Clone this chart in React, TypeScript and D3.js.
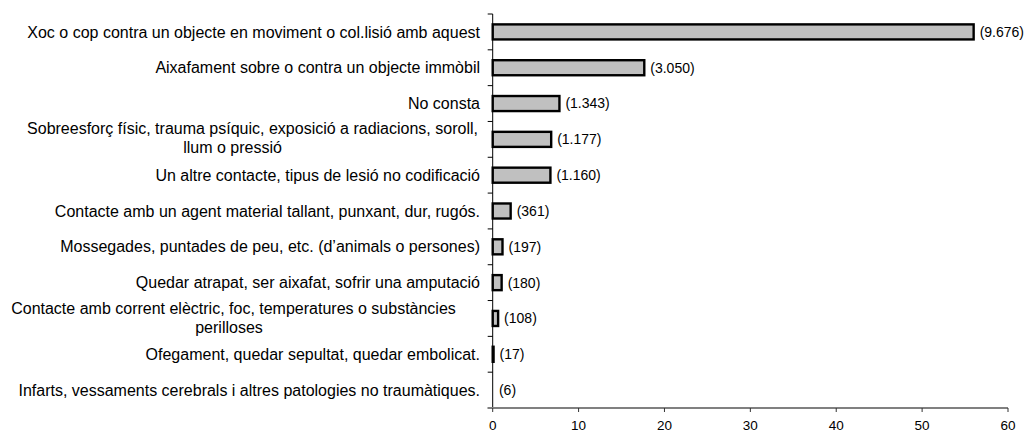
import React from "react";
import * as d3 from "d3";

const categories: string[][] = [
  ["Xoc o cop contra un objecte en moviment o col.lisió amb aquest"],
  ["Aixafament sobre o contra un objecte immòbil"],
  ["No consta"],
  ["Sobreesforç físic, trauma psíquic, exposició a radiacions, soroll,", "llum o pressió"],
  ["Un altre contacte, tipus de lesió no codificació"],
  ["Contacte amb un agent material tallant, punxant, dur, rugós."],
  ["Mossegades, puntades de peu, etc. (d’animals o persones)"],
  ["Quedar atrapat, ser aixafat, sofrir una amputació"],
  ["Contacte amb corrent elèctric, foc, temperatures o substàncies", "perilloses"],
  ["Ofegament, quedar sepultat, quedar embolicat."],
  ["Infarts, vessaments cerebrals i altres patologies no traumàtiques."],
];
const percentages: number[] = [56.0, 17.65, 7.77, 6.81, 6.72, 2.09, 1.14, 1.04, 0.63, 0.1, 0.03];
const countLabels: string[] = ["(9.676)", "(3.050)", "(1.343)", "(1.177)", "(1.160)", "(361)", "(197)", "(180)", "(108)", "(17)", "(6)"];
const xTicks: number[] = [0, 10, 20, 30, 40, 50, 60];

const W = 1025;
const H = 432;
const left = 492.7;
const right = 1008;
const top = 14;
const bottom = 408;
const labelRight = 480;
const font = "'Liberation Sans', Arial, sans-serif";

export default function App() {
  const x = d3.scaleLinear().domain([0, 60]).range([left, right]);
  const y = d3
    .scaleBand<number>()
    .domain(d3.range(categories.length))
    .range([top, bottom])
    .paddingInner(0.58)
    .paddingOuter(0.29);
  const bandStep = (bottom - top) / categories.length;
  const boundaries = d3.range(categories.length + 1).map((i) => top + i * bandStep);
  // horizontal centres of the wrapped label lines (layout only)
  const wrapCenters: Record<number, number[]> = { 3: [252.5, 232.5], 8: [233.5, 229] };

  return (
    <svg
      width={W}
      height={H}
      style={{ position: "absolute", left: 0, top: 0, background: "#fff" }}
      fontFamily={font}
    >
      {percentages.map((v, i) => {
        const w = x(v) - x(0);
        if (w < 0.5) return null;
        return (
          <rect
            key={i}
            x={x(0)}
            y={y(i)!}
            width={w}
            height={y.bandwidth()}
            fill="#c0c0c0"
            stroke="#000"
            strokeWidth={2.4}
          />
        );
      })}
      {percentages.map((v, i) => (
        <text
          key={i}
          x={x(v) + 6}
          y={y(i)! + y.bandwidth() / 2}
          dy="0.35em"
          fontSize={14}
          fill="#000"
        >
          {countLabels[i]}
        </text>
      ))}
      <line x1={left} x2={left} y1={top} y2={bottom} stroke="#000" strokeWidth={1} />
      {boundaries.map((b, i) => (
        <line key={i} x1={left - 5} x2={left} y1={b} y2={b} stroke="#000" strokeWidth={1} />
      ))}
      <line x1={left - 5} x2={right} y1={bottom} y2={bottom} stroke="#808080" strokeWidth={2} />
      {xTicks.map((t) => (
        <g key={t}>
          <line x1={x(t)} x2={x(t)} y1={bottom} y2={bottom + 4} stroke="#333" strokeWidth={1} />
          <text x={x(t)} y={425} dy="0.35em" textAnchor="middle" fontSize={13.5} fill="#000">
            {t}
          </text>
        </g>
      ))}
      {categories.map((lines, i) => {
        const cy = top + (i + 0.5) * bandStep;
        if (lines.length === 1) {
          return (
            <text key={i} x={labelRight} y={cy} dy="0.35em" textAnchor="end" fontSize={16} fill="#000">
              {lines[0]}
            </text>
          );
        }
        const spacing = 19;
        return (
          <g key={i}>
            {lines.map((ln, j) => (
              <text
                key={j}
                x={wrapCenters[i][j]}
                y={cy - 1 + (j - (lines.length - 1) / 2) * spacing}
                dy="0.35em"
                textAnchor="middle"
                fontSize={16}
                fill="#000"
              >
                {ln}
              </text>
            ))}
          </g>
        );
      })}
    </svg>
  );
}
